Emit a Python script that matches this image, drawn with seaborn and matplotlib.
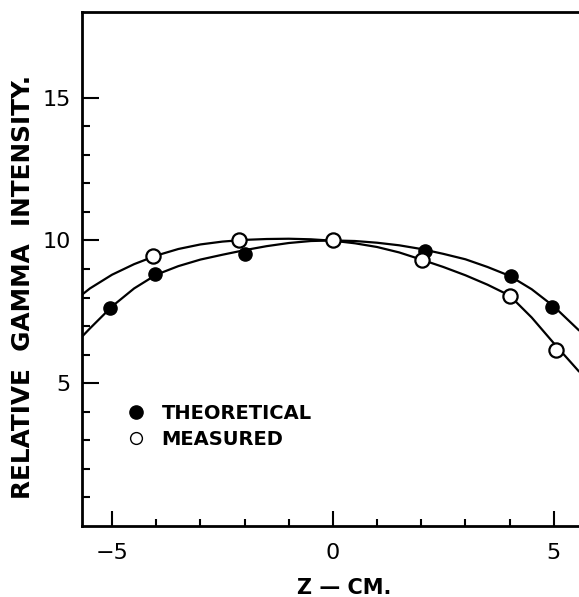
from __future__ import annotations

import matplotlib

matplotlib.use("Agg")

import matplotlib.pyplot as plt
import pandas as pd
import seaborn as sns
from matplotlib.lines import Line2D
from matplotlib.ticker import FixedLocator

# puntos
theo_z = [-5.05, -4.03, -1.99, 0.0, 2.08, 4.04, 4.95]
theo_int = [7.64, 8.83, 9.54, 10.0, 9.62, 8.77, 7.68]

meas_z = [-4.07, -2.12, 0.0, 2.02, 4.0, 5.06]
meas_int = [9.45, 10.0, 10.0, 9.31, 8.05, 6.18]

# curvas dibujadas a mano
curve_z = [-5.68, -5.5, -5.0, -4.5, -4.0, -3.5, -3.0, -2.5, -2.0, -1.5, -1.0, -0.5,
           0.0, 0.5, 1.0, 1.5, 2.0, 2.5, 3.0, 3.5, 4.0, 4.5, 5.0, 5.57]
theo_curve = [6.63, 6.92, 7.69, 8.32, 8.80, 9.10, 9.33, 9.50, 9.66, 9.80, 9.91, 9.98,
              10.0, 9.98, 9.92, 9.83, 9.70, 9.53, 9.34, 9.07, 8.76, 8.29, 7.69, 6.85]
meas_curve = [8.10, 8.32, 8.80, 9.17, 9.47, 9.70, 9.86, 9.96, 10.02, 10.05, 10.06, 10.04,
              9.99, 9.90, 9.77, 9.58, 9.33, 9.07, 8.78, 8.45, 8.07, 7.30, 6.40, 5.41]

x_major = [-5, 0, 5]
x_minor = [-4, -3, -2, -1, 1, 2, 3, 4]
y_major = [5, 10, 15]
y_minor = [1, 2, 3, 4, 6, 7, 8, 9, 11, 12, 13, 14]


def main() -> None:
    sns.set_style("ticks")
    plt.rcParams["font.family"] = ["DejaVu Sans"]
    plt.rcParams["text.color"] = "black"
    plt.rcParams["axes.labelcolor"] = "black"
    plt.rcParams["xtick.color"] = "black"
    plt.rcParams["ytick.color"] = "black"

    theo = pd.DataFrame({"z": theo_z, "intensidad": theo_int})
    meas = pd.DataFrame({"z": meas_z, "intensidad": meas_int})
    curvas = pd.DataFrame({"z": curve_z, "teorica": theo_curve, "medida": meas_curve})

    fig = plt.figure(figsize=(5.79, 5.97), dpi=100)
    ax = fig.add_axes([82 / 579, 1 - 526 / 597, 1 - 82 / 579, 514 / 597])

    for col in ["teorica", "medida"]:
        sns.lineplot(data=curvas, x="z", y=col, color="black", linewidth=1.6,
                     estimator=None, zorder=2, ax=ax)

    sns.scatterplot(data=theo, x="z", y="intensidad", s=90, color="black",
                    edgecolor="black", linewidth=1.0, zorder=3, ax=ax)
    sns.scatterplot(data=meas, x="z", y="intensidad", s=105, color="white",
                    edgecolor="black", linewidth=1.6, zorder=4, ax=ax)

    ax.set_xlim(-5.68, 5.57)
    ax.set_ylim(0, 18)

    for side in ["left", "bottom", "top"]:
        ax.spines[side].set_linewidth(2.0)
        ax.spines[side].set_color("black")
    ax.spines["right"].set_visible(False)

    ax.xaxis.set_major_locator(FixedLocator(x_major))
    ax.xaxis.set_minor_locator(FixedLocator(x_minor))
    ax.yaxis.set_major_locator(FixedLocator(y_major))
    ax.yaxis.set_minor_locator(FixedLocator(y_minor))
    ax.set_xticklabels(["\u22125", "0", "5"])
    ax.set_yticklabels(["5", "10", "15"])

    ax.tick_params(axis="both", which="both", direction="in", width=1.5, labelsize=16)
    ax.tick_params(axis="x", which="major", length=11, pad=12)
    ax.tick_params(axis="x", which="minor", length=5)
    ax.tick_params(axis="y", which="major", length=12, pad=8)
    ax.tick_params(axis="y", which="minor", length=6)

    ax.set_xlabel("Z \u2014 CM.", fontsize=15, fontweight="bold")
    ax.xaxis.set_label_coords(0.527, -0.101)
    ax.set_ylabel("RELATIVE  GAMMA  INTENSITY.", fontsize=17.8, fontweight="bold")
    ax.yaxis.set_label_coords(-0.095, 0.465)

    handles = [
        Line2D([], [], linestyle="none", marker="o", markersize=9.5,
               markerfacecolor="black", markeredgecolor="black"),
        Line2D([], [], linestyle="none", marker="o", markersize=8.5,
               markerfacecolor="white", markeredgecolor="black", markeredgewidth=1.0),
    ]
    ax.legend(handles, ["THEORETICAL", "MEASURED"], loc="center left",
              bbox_to_anchor=(0.09, 0.1936), frameon=False, borderpad=0,
              borderaxespad=0, handlelength=1.0, handletextpad=0.79,
              labelspacing=0.35, prop={"weight": "bold", "size": 14})

    fig.savefig("out.png", dpi=100)
    plt.close(fig)


if __name__ == "__main__":
    main()
